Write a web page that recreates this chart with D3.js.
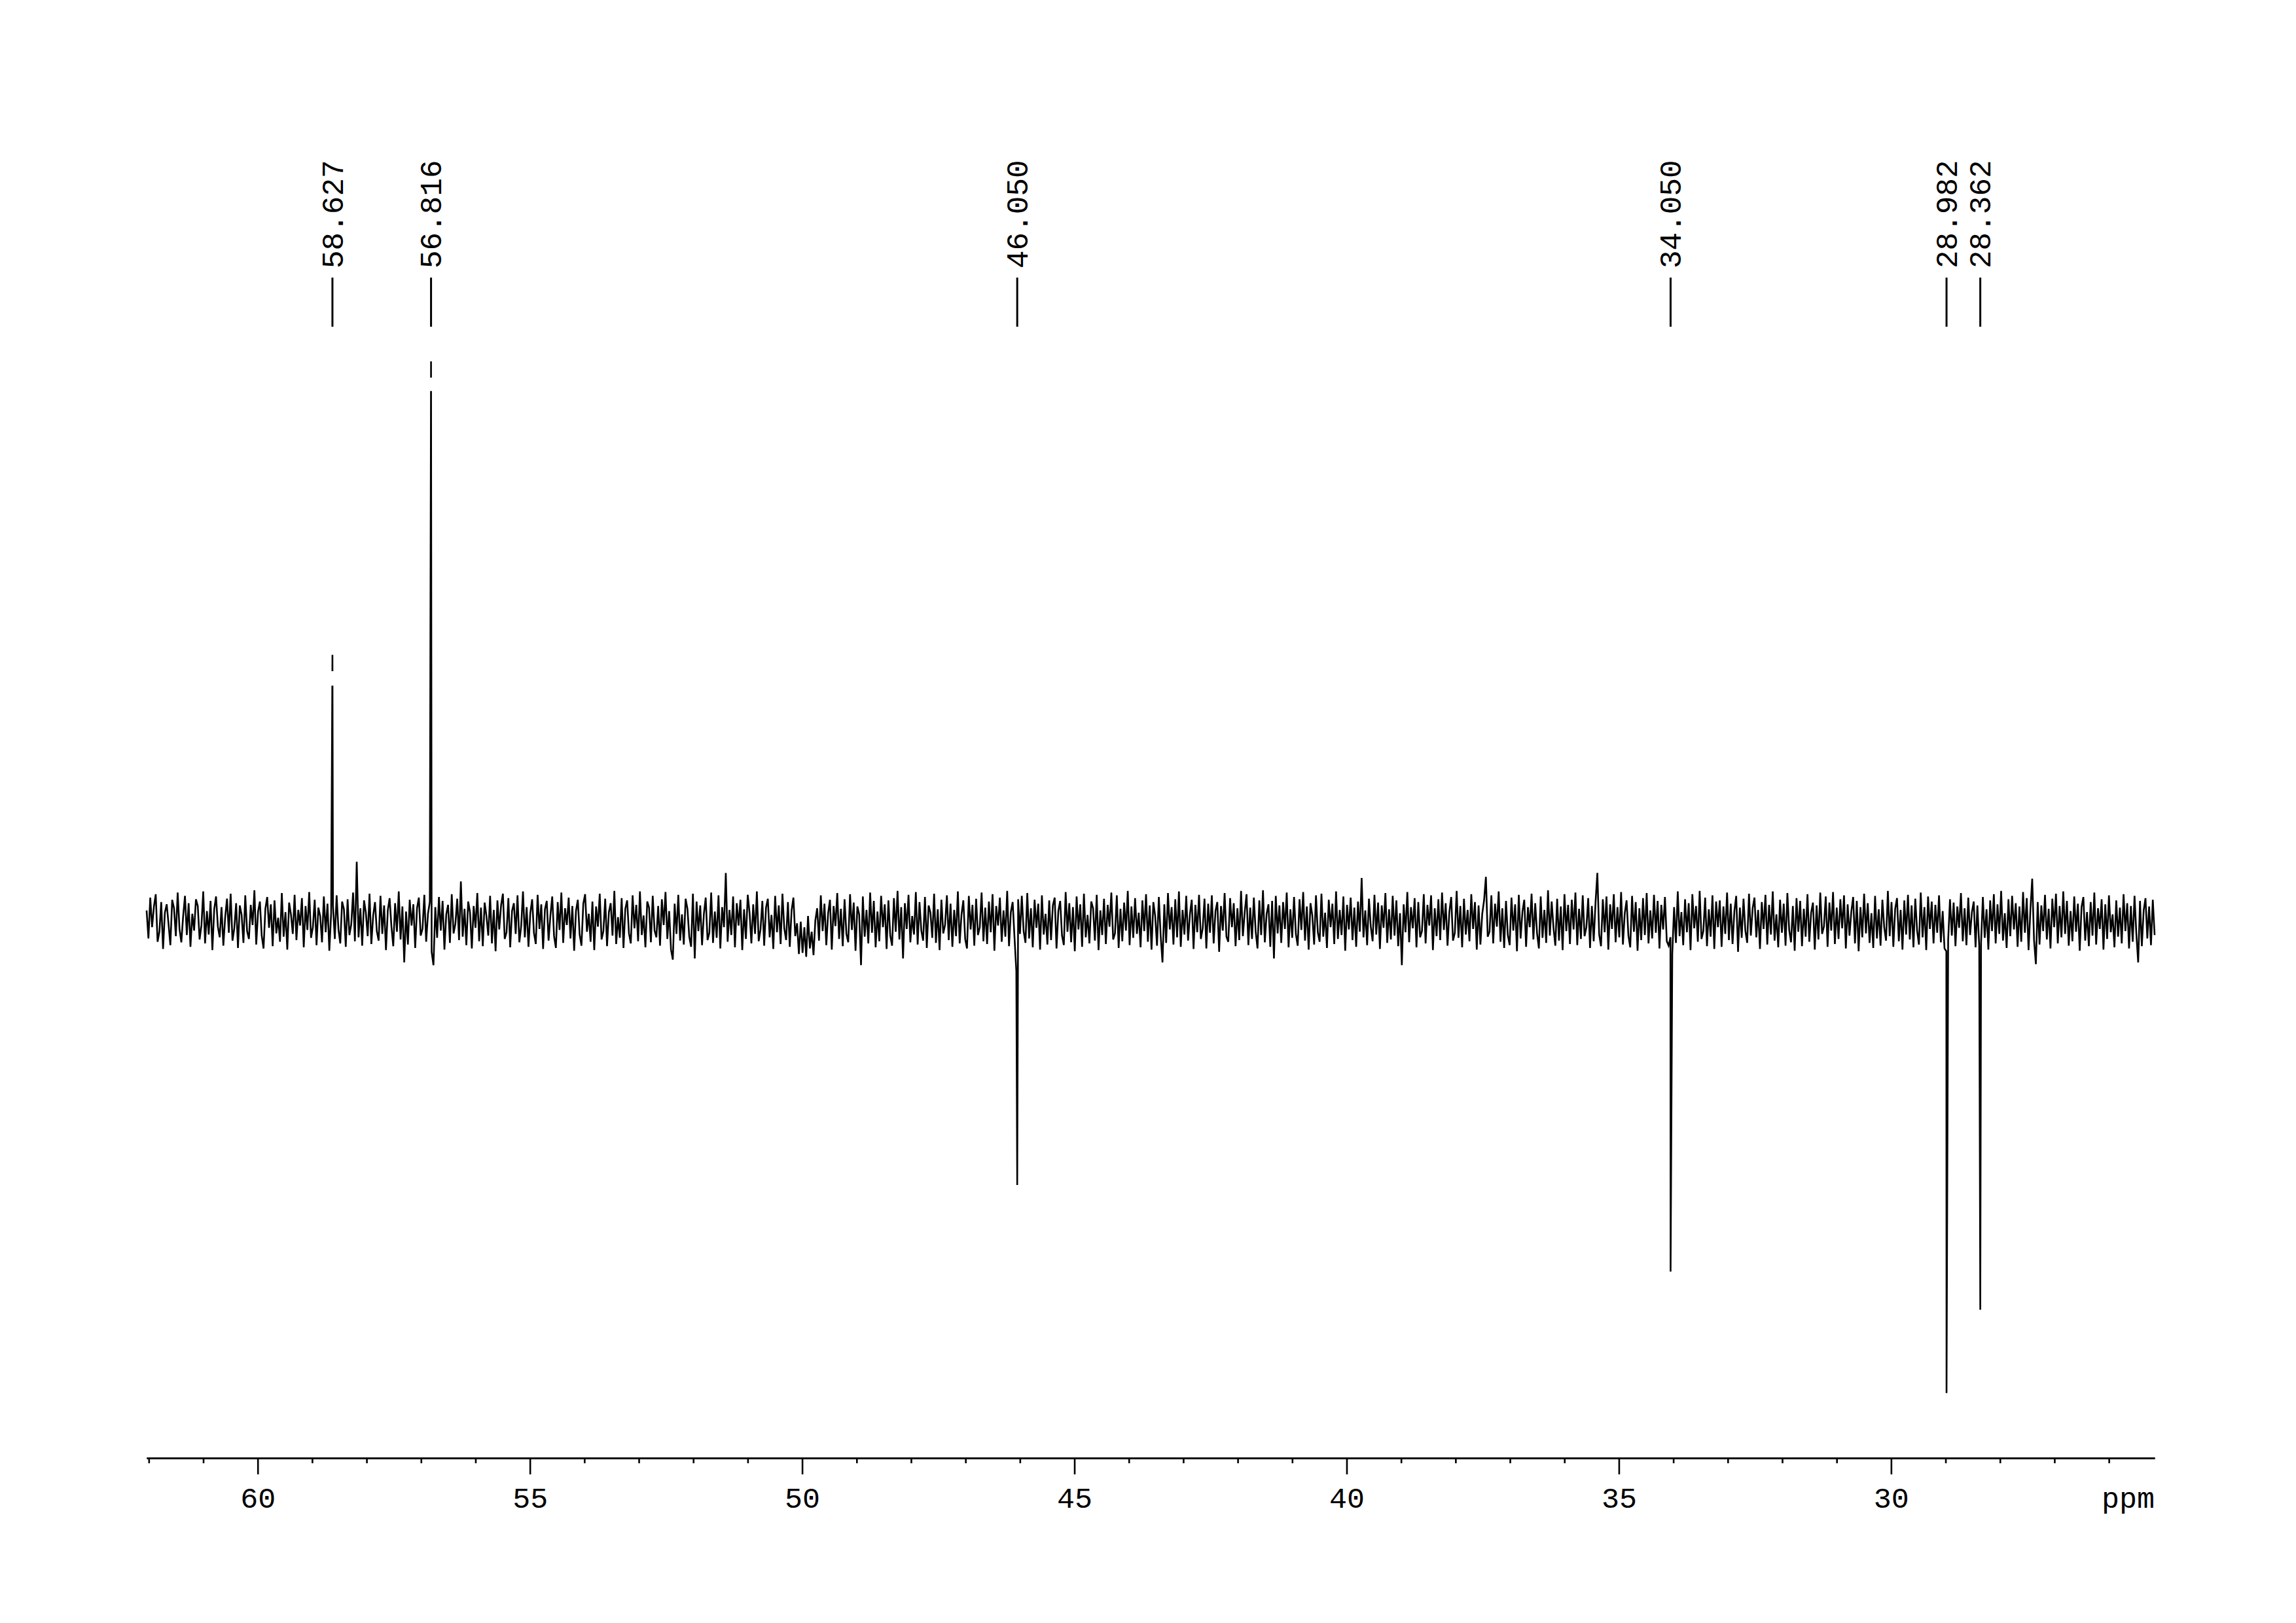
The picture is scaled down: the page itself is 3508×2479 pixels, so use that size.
<!DOCTYPE html>
<html>
<head>
<meta charset="utf-8">
<script src="https://cdn.jsdelivr.net/npm/d3@7"></script>
<style>
  html, body { margin: 0; padding: 0; background: #ffffff; }
  svg { display: block; }
</style>
</head>
<body>
<svg id="chart" width="3508" height="2479"></svg>
<script>
// ---------- DATA ----------
// spectral window (ppm)
const ppmStart = 62.04;
const ppmEnd = 25.16;

// picked peaks (ppm) and intensities (arbitrary units, 56.816 = 1000)
const peakPpm = [58.627, 56.816, 46.050, 34.050, 28.982, 28.362];
const peakValue = [475, 1000, -473, -628, -845, -696];
const peakLabels = ["58.627", "56.816", "46.050", "34.050", "28.982", "28.362"];

// small breaks visible near the tops of the two positive peaks (intensity units)
const breakPpm = [58.627, 56.816];
const breakTop = [446, 971];
const breakBottom = [420, 947];

// axis ticks
const majorTicks = [60, 55, 50, 45, 40, 35, 30];
const minorTicks = [62, 61, 59, 58, 57, 56, 54, 53, 52, 51, 49, 48, 47, 46, 44, 43, 42, 41,
                    39, 38, 37, 36, 34, 33, 32, 31, 29, 28, 27, 26];
const axisUnit = "ppm";

// baseline noise, read across the window from left (62.04 ppm) to right (25.16 ppm)
const noise = [
18,-32,41,-12,25,47,-38,-20,33,-51,14,29,-6,-44,37,22,-28,50,-15,-39,
8,44,-26,31,-47,12,-18,38,26,-34,-9,52,-41,17,-25,35,-53,20,43,-11,
-30,24,-45,6,39,-22,48,-36,-14,31,-49,27,10,-40,45,-19,-33,28,-8,54,
-43,16,34,-27,-50,21,42,-13,29,-46,36,-23,5,-38,49,-29,15,-52,32,11,
-24,46,-35,19,-9,40,-48,26,-17,51,-31,-12,37,-44,23,8,-39,43,-21,30,
-54,13,27,-33,45,-16,-41,34,20,-47,38,-26,-7,50,-37,105,-30,22,-45,36,
14,-28,48,-42,9,33,-19,-36,44,-24,27,-53,18,40,-11,-46,31,-20,52,-34,
25,-75,16,-43,37,-9,29,-49,22,41,-27,-15,46,-38,12,33,-56,-80,24,-31,
42,-18,35,-52,11,28,-40,47,-23,-6,39,-35,70,-29,21,-44,34,15,-50,26,
-13,49,-37,23,-46,32,8,-27,44,-41,19,-55,36,-16,27,48,-33,-21,40,-48,
17,31,-24,45,-39,-10,52,-30,24,-47,13,38,-22,-42,46,-15,29,-51,20,35,
-36,9,43,-28,-49,33,-17,50,-40,22,-8,41,-32,26,-54,17,37,-25,-45,30,
47,-20,12,-38,34,-53,25,-11,48,-34,-19,39,-46,15,31,-27,53,-42,6,-31,
40,-49,21,36,-23,-41,45,-14,28,-37,52,-26,9,-48,34,23,-39,44,-18,-30,
26,-45,38,-8,51,-33,17,-52,-70,30,-24,46,-36,11,-43,39,21,-29,-47,48,
-68,34,-19,27,-44,12,41,-35,-22,50,-40,16,-31,45,-50,24,-12,85,-38,19,
-26,43,-48,31,-9,37,-53,20,-33,46,14,-41,29,-24,52,-37,-16,35,-45,23,
39,-30,10,-51,44,-21,27,-42,48,-14,-35,33,-47,18,41,-28,-5,-60,-2,-58,
-12,-65,8,-50,-20,-62,0,22,-36,45,-19,30,-44,13,37,-52,26,-10,49,-33,
21,-46,38,-24,-39,47,-17,32,-54,25,11,-80,43,-29,19,-41,50,-22,35,-48,
16,-37,44,-12,29,-51,36,-27,-45,40,-20,53,-34,24,-68,31,-15,46,-39,8,
-25,51,-43,33,-18,-36,42,-49,27,14,-31,48,-40,20,-53,37,-23,-8,45,-35,
30,-47,19,-28,52,-41,11,36,-33,-50,44,-16,28,-45,39,-26,-12,50,-37,23,
-42,34,-21,47,-54,26,-9,41,-38,18,-29,53,-46,15,33,-30,-90,38,-24,44,
-19,-40,49,-32,22,-48,37,-13,30,-52,45,-25,12,-43,36,-35,27,41,-50,17,
35,-27,-44,51,-20,31,-39,24,-55,43,-16,29,-47,48,-30,10,-41,34,22,-36,
46,-53,18,-26,39,-42,28,-11,50,-34,-23,45,-49,21,-37,32,-18,53,-44,25,
-31,40,-24,14,-48,36,-19,47,-38,27,-52,33,8,-45,42,-27,-75,29,-40,49,
-16,24,-43,38,-30,52,-47,19,-25,44,-36,11,37,-51,28,-21,46,-33,-14,39,
-50,30,-22,45,-41,17,33,-56,26,-18,49,-29,-38,40,-12,31,-46,22,-35,53,
-28,15,47,-44,23,-33,41,-20,-50,36,-26,54,-39,12,29,-47,35,-68,44,-23,
27,-40,33,-15,50,-48,20,-31,42,-24,-45,38,-17,51,-36,25,-52,31,9,-43,
45,-21,-38,48,-29,14,-49,37,-12,30,-42,52,-33,19,-26,43,-54,28,-16,41,
-35,23,-47,34,-20,76,-30,18,-44,39,-11,-37,46,-25,32,-51,27,-13,49,-40,
20,-34,44,-27,36,-46,13,-80,29,-21,51,-39,24,-14,40,-48,33,-30,-19,47,
-41,28,-9,45,-53,22,-28,38,-35,50,-17,31,-45,15,42,-36,-22,53,-31,26,
-48,39,-25,19,-37,47,-15,33,-52,27,-43,12,36,78,-29,-20,45,-41,30,-11,
52,-38,22,-49,35,-26,-44,41,-18,29,-55,46,-32,16,37,-47,24,-12,48,-34,
31,-23,-50,43,-31,19,-40,54,-27,34,-13,-45,39,-36,25,-53,47,-19,28,-42,
37,-16,50,-44,21,-33,45,-28,-12,40,-49,26,-37,32,85,-25,-46,38,-21,43,
-52,29,-15,47,-39,24,-30,51,-43,13,36,-27,-48,44,-20,33,-54,22,-35,40,
-26,49,-41,18,-32,46,-22,35,-50,28,-16,42,-37,-45,-30,-60,24,-40,52,-28,
15,-44,38,-21,31,-53,47,-14,26,-38,53,-33,-19,41,-46,20,-29,45,-51,34,
-12,36,-47,25,-24,50,-35,30,-42,17,44,-56,23,-31,39,-18,-40,48,-27,22,
41,-30,19,-51,33,-15,46,-43,28,-25,52,-36,11,-48,37,-22,30,-45,49,-17,
-39,26,-54,40,-20,35,-46,21,-29,47,-38,14,32,-52,27,-34,50,-24,-11,43,
-47,32,-18,51,-42,23,-33,38,-14,45,-50,29,-27,16,42,-41,35,-55,24,-30,
48,-23,31,-40,13,-49,44,-32,20,-45,37,-12,-36,53,-28,33,-47,21,40,-37,
19,-52,36,-25,46,-34,27,-48,39,-18,-43,50,-30,24,-53,43,-15,34,-41,28,
-22,45,-39,17,-50,-55,-35,38,-27,32,-46,25,-13,49,-37,22,-44,41,-26,15,
34,-48,27,-45,-40,42,-31,20,-52,36,-19,47,-41,29,-24,53,-36,13,-49,38,
-28,44,-16,31,-47,25,-38,51,-22,40,-53,18,75,-35,-78,33,-43,27,-19,46,
-34,21,-50,39,-12,48,-41,26,-30,52,-24,35,-45,17,-37,43,-20,30,-54,24,
42,-36,15,-46,33,-27,50,-43,22,-15,38,-52,29,-33,45,-21,11,-48,36,-29,
23,-41,47,-19,31,-50,26,-38,44,-24,-75,35,-46,18,40,-32,25,-44,37,-26
];

// ---------- DRAW ----------
const svg = d3.select("#chart");
svg.append("rect").attr("width", 3508).attr("height", 2479).attr("fill", "#ffffff");

const x = d3.scaleLinear().domain([ppmStart, ppmEnd]).range([224, 3292]);
const y = d3.scaleLinear().domain([-1000, 1000]).range([2260, 552]);

const FONT = "'Liberation Mono', 'DejaVu Sans Mono', monospace";

// noise samples placed evenly over the window, peaks merged in by ppm
const step = (ppmStart - ppmEnd) / (noise.length - 1);
const pts = noise.map((v, i) => ({ ppm: ppmStart - i * step, v: v }));
peakPpm.forEach((p, i) => pts.push({ ppm: p, v: peakValue[i] }));
pts.sort((a, b) => b.ppm - a.ppm);

const line = d3.line().x(d => x(d.ppm)).y(d => y(d.v));
svg.append("path")
  .datum(pts)
  .attr("d", line)
  .attr("fill", "none")
  .attr("stroke", "#000")
  .attr("stroke-width", 2.6)
  .attr("stroke-linejoin", "miter")
  .attr("stroke-miterlimit", 4);

// breaks near peak tops
svg.selectAll("rect.brk")
  .data(breakPpm)
  .join("rect")
  .attr("class", "brk")
  .attr("x", d => x(d) - 6)
  .attr("width", 12)
  .attr("y", (d, i) => y(breakTop[i]))
  .attr("height", (d, i) => y(breakBottom[i]) - y(breakTop[i]))
  .attr("fill", "#fff");

// peak labels
const lab = svg.append("g");
lab.selectAll("line")
  .data(peakPpm)
  .join("line")
  .attr("x1", d => x(d)).attr("x2", d => x(d))
  .attr("y1", 424).attr("y2", 499)
  .attr("stroke", "#000").attr("stroke-width", 3);
lab.selectAll("text")
  .data(peakLabels)
  .join("text")
  .attr("transform", (d, i) => `translate(${x(peakPpm[i])},410) rotate(-90)`)
  .attr("dy", "0.34em")
  .attr("font-family", FONT)
  .attr("font-size", 46)
  .attr("fill", "#000")
  .text(d => d);

// x axis
const axisY = 2227;
const gMinor = svg.append("g").attr("transform", `translate(0,${axisY})`)
  .call(d3.axisBottom(x).tickValues(minorTicks).tickSize(8).tickSizeOuter(0).tickFormat(""));
const gMajor = svg.append("g").attr("transform", `translate(0,${axisY})`)
  .call(d3.axisBottom(x).tickValues(majorTicks).tickSize(25).tickSizeOuter(0).tickFormat(d3.format("d")));
[gMinor, gMajor].forEach(g => {
  g.selectAll("path.domain").attr("stroke", "#000").attr("stroke-width", 2.6);
  g.selectAll(".tick line").attr("stroke", "#000").attr("stroke-width", 2.6);
});
gMajor.selectAll(".tick text")
  .attr("y", 76).attr("dy", 0)
  .attr("font-family", FONT)
  .attr("font-size", 45)
  .attr("fill", "#000");

svg.append("text")
  .attr("x", 3292).attr("y", axisY + 76)
  .attr("text-anchor", "end")
  .attr("font-family", FONT)
  .attr("font-size", 45)
  .attr("fill", "#000")
  .text(axisUnit);
</script>
</body>
</html>
